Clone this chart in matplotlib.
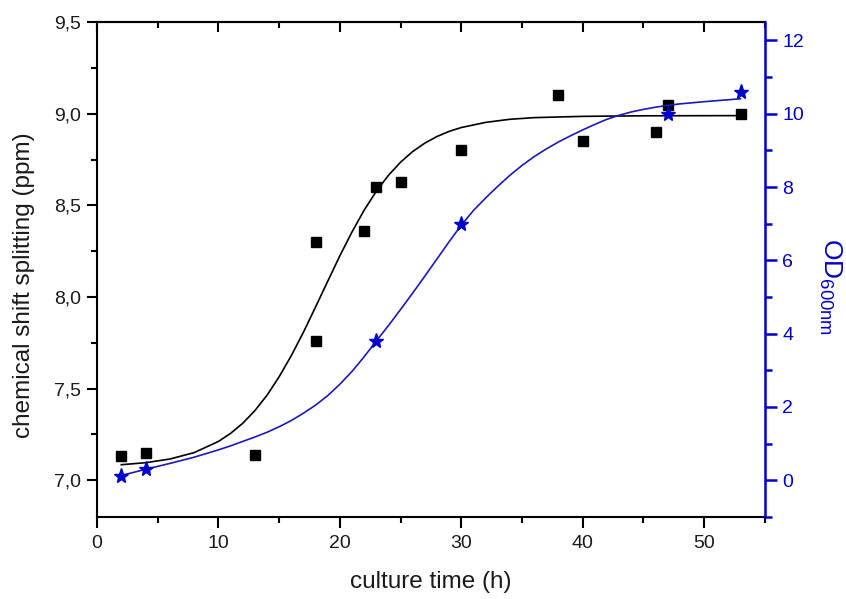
import matplotlib
matplotlib.use("Agg")
import matplotlib.pyplot as plt
from matplotlib.ticker import MultipleLocator, FuncFormatter, NullFormatter

plt.rcParams['font.family'] = ['Liberation Sans', 'DejaVu Sans']
plt.rcParams['mathtext.fontset'] = 'custom'
plt.rcParams['mathtext.rm'] = 'Liberation Sans'
plt.rcParams['mathtext.it'] = 'Liberation Sans'

# chemical shift splitting (ppm) data, left axis
shift_time = [2, 4, 13, 18, 18, 22, 23, 25, 30, 38, 40, 46, 47, 53]
shift_ppm = [7.13, 7.15, 7.14, 8.30, 7.76, 8.36, 8.60, 8.63, 8.80, 9.10, 8.85, 8.90, 9.05, 9.00]

# OD600nm data, right axis
od_time = [2, 4, 23, 30, 47, 53]
od_value = [0.12, 0.30, 3.8, 7.0, 10.0, 10.6]

# fitted curves, points
shift_fit_time = [2, 4, 6, 8, 10, 11, 12, 13, 14, 15, 16, 17, 18, 19, 20, 21, 22, 23, 24, 25,
                  26, 27, 28, 29, 30, 32, 34, 36, 40, 45, 53]
shift_fit_ppm = [7.085, 7.096, 7.116, 7.151, 7.212, 7.256, 7.311, 7.380, 7.464, 7.565, 7.680, 7.808,
                 7.946, 8.086, 8.225, 8.355, 8.474, 8.577, 8.664, 8.736, 8.794, 8.840, 8.876, 8.904,
                 8.925, 8.953, 8.970, 8.979, 8.986, 8.989, 8.990]

od_fit_time = [2, 4, 6, 8, 10, 11, 12, 13, 14, 15, 16, 17, 18, 19, 20, 21, 22, 23, 24, 25, 26, 27,
               28, 29, 30, 31, 32, 33, 34, 35, 36, 37, 38, 39, 40, 41, 42, 43, 44, 45, 46, 47, 48,
               50, 53]
od_fit_value = [0.13, 0.30, 0.46, 0.63, 0.83, 0.94, 1.06, 1.18, 1.31, 1.46, 1.63, 1.83, 2.05, 2.31,
                2.62, 2.97, 3.37, 3.80, 4.22, 4.66, 5.11, 5.57, 6.04, 6.51, 6.96, 7.36, 7.70, 8.02,
                8.32, 8.59, 8.83, 9.04, 9.23, 9.40, 9.56, 9.71, 9.85, 9.96, 10.05, 10.12, 10.18,
                10.23, 10.27, 10.33, 10.41]

blue = '#0000CC'
txt = '#1a1a1a'

fig = plt.figure(figsize=(8.46, 5.99), dpi=100)
ax = fig.add_axes([0.1147, 0.137, 0.904 - 0.1147, 0.963 - 0.137])
ax2 = ax.twinx()

ax.plot(shift_fit_time, shift_fit_ppm, color='black', lw=1.2, zorder=2)
ax.plot(shift_time, shift_ppm, 's', color='black', ms=7.5, zorder=3)

ax2.plot(od_fit_time, od_fit_value, color='#1a1ab8', lw=1.2, zorder=2)
ax2.plot(od_time, od_value, '*', color=blue, ms=11, mec=blue, zorder=3)

ax.set_xlim(0, 55)
ax.set_ylim(6.8, 9.5)
ax2.set_ylim(-1, 12.5)

ax.xaxis.set_major_locator(MultipleLocator(10))
ax.xaxis.set_minor_locator(MultipleLocator(5))
ax.yaxis.set_major_locator(MultipleLocator(0.5))
ax.yaxis.set_minor_locator(MultipleLocator(0.25))
ax.yaxis.set_major_formatter(FuncFormatter(lambda v, p: f"{v:.1f}".replace('.', ',')))
ax2.yaxis.set_major_locator(MultipleLocator(2))
ax2.yaxis.set_minor_locator(MultipleLocator(1))

for sp in ['left', 'bottom', 'top']:
    ax.spines[sp].set_linewidth(1.5)
ax.spines['right'].set_visible(False)
ax2.spines['left'].set_visible(False)
ax2.spines['top'].set_visible(False)
ax2.spines['bottom'].set_visible(False)
ax2.spines['right'].set_color(blue)
ax2.spines['right'].set_linewidth(1.8)

ax.tick_params(axis='x', which='major', direction='out', length=8, width=1.5, labelsize=14, pad=5,
               top=False, labelcolor=txt)
ax.tick_params(axis='x', which='minor', direction='out', length=4, width=1.5, top=False)
ax.tick_params(axis='y', which='major', direction='out', length=7.5, width=1.5, labelsize=14, pad=4,
               right=False, labelcolor=txt)
ax.tick_params(axis='y', which='minor', direction='out', length=4.5, width=1.5, right=False)

# top axis with inward ticks, no labels
top = ax.secondary_xaxis('top')
top.xaxis.set_major_locator(MultipleLocator(10))
top.xaxis.set_minor_locator(MultipleLocator(5))
top.xaxis.set_major_formatter(NullFormatter())
top.tick_params(axis='x', which='major', direction='in', length=7.5, width=1.5)
top.tick_params(axis='x', which='minor', direction='in', length=4, width=1.5)
top.spines['top'].set_linewidth(1.5)

ax2.tick_params(axis='y', which='major', direction='out', length=8.5, width=1.8, colors=blue,
                labelsize=14, pad=4)
ax2.tick_params(axis='y', which='minor', direction='out', length=5, width=1.8, colors=blue)

ax.set_xlabel('culture time (h)', fontsize=17.5, labelpad=14, color=txt)
fig.text(24 / 846, 1 - 285 / 599, 'chemical shift splitting (ppm)', fontsize=17.5, color=txt,
         rotation=90, ha='center', va='center')
fig.text(830 / 846, 1 - 287 / 599, r'OD$_{\mathregular{600nm}}$', fontsize=19, color=blue,
         rotation=270, ha='center', va='center')

fig.savefig('out.png', dpi=100)
